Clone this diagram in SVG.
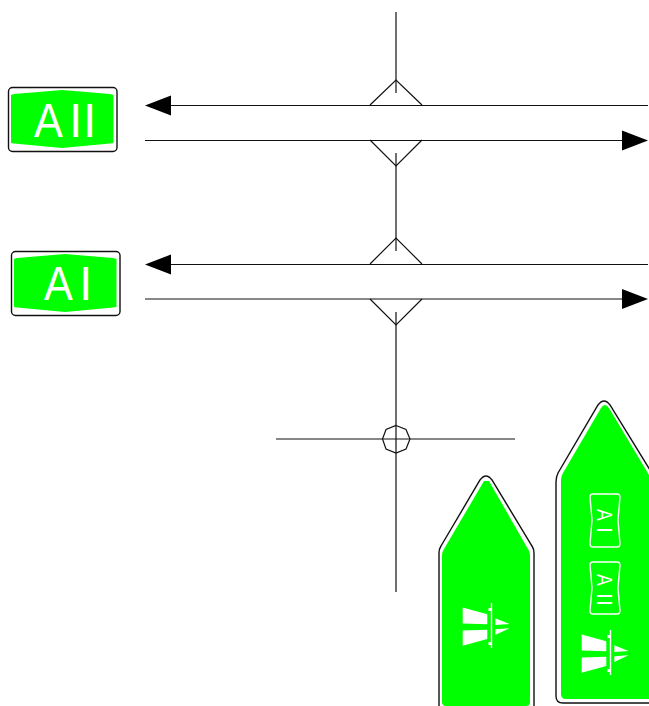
<svg xmlns="http://www.w3.org/2000/svg" width="649" height="706" viewBox="0 0 649 706">
<style>
.ln{fill:none;stroke:#111;stroke-width:1.2}
.out{fill:#fff;stroke:#111;stroke-width:1.4}
.gr{fill:#00ff00;stroke:none}
.big{font-family:"Liberation Sans",Arial,sans-serif;font-size:48px;fill:#fff}
.sm{font-family:"Liberation Sans",Arial,sans-serif;font-size:22px;fill:#fff}
.box{fill:none;stroke:#fff;stroke-width:1.4}
.ah{fill:#000;stroke:none}
</style>
<defs>
<g id="pict" fill="#fff">
<polygon points="462.7,607.5 487.3,614.3 487.3,624.3 462.7,623.5"/>
<polygon points="462.7,630.5 487.3,629.7 487.3,639 462.7,645.7"/>
<polygon points="495.3,618.3 509.5,624 495.3,625"/>
<polygon points="495.3,635 509.5,628.3 495.3,629.3"/>
<rect x="490.800" y="603" width="1.400" height="45"/>
<rect x="488.500" y="608" width="3" height="3"/>
<rect x="488.500" y="642" width="3" height="3"/>
</g>
</defs>
<g id="connectors">
<path class="ln" d="M396 12V93M396 153V251M396 312V592"/>
<path class="ln" d="M370 105L396 80L422 105M370 140L396 166L422 140"/>
<path class="ln" d="M370 264L396 238L422 264M370 299L396 325L422 299"/>
<path class="ln" d="M168 105.500H648M145 140.500H625M168 264.500H648M145 299H625"/>
<polygon class="ah" points="145,105.500 171,95.500 171,115.500"/>
<polygon class="ah" points="648,140.500 622,130.500 622,150.500"/>
<polygon class="ah" points="145,264.500 171,254.500 171,274.500"/>
<polygon class="ah" points="648,299 622,289 622,309"/>
<path class="ln" d="M276 439H515"/>
</g>
<g id="crossing">
<polygon class="ln" points="396,425.500 406,429.500 410,439 406,449 396,453 386,449 382.500,439 386,429.500"/>
</g>
<g id="sign-a2">
<rect class="out" x="8.500" y="87.500" width="108.500" height="64" rx="4"/>
<polygon class="gr" points="11,95 14,94 62,90 110,94 113.500,95 113.500,143 110,143.500 62,148 14,143.500 11,143"/>
<text class="big" transform="translate(34,137) scale(.9,1)">A</text>
<text class="big" x="69" y="137">I</text>
<text class="big" x="83" y="137">I</text>
</g>
<g id="sign-a1">
<rect class="out" x="11.500" y="251.500" width="108.500" height="64" rx="4"/>
<polygon class="gr" points="14,259 17,258 65,254 113,258 116.500,259 116.500,307 113,307.500 65,312 17,307.500 14,307"/>
<text class="big" transform="translate(44,300) scale(.9,1)">A</text>
<text class="big" x="79" y="300">I</text>
</g>
<g id="sign-route">
<path class="out" d="M439 707V553Q439 549 441 546L480 480Q486 472 492 480L532 546Q534 549 534 553V707"/>
<path class="gr" d="M442 702V555Q442 552 444 549L484 481H489L528 549Q530 552 530 555V702Q530 706 526 706H446Q442 706 442 702Z"/>
<use href="#pict"/>
</g>
<g id="sign-route-a1-a2">
<path class="out" d="M650 470L610 405Q604 397 598 405L558 473Q556 477 556 482V696Q556 703 563 703H650"/>
<path class="gr" d="M649 475L609 408Q605 402 601 408L563 473Q561 476 561 480V694Q561 699 566 699H649Z"/>
<path class="box" d="M593 494H617Q620 494 620 497L618 520L620 544Q620 547 617 547H593Q590 547 590 544L592 520L590 497Q590 494 593 494Z"/>
<text class="sm" transform="translate(597,509) rotate(90) scale(.8,1)">A</text>
<text class="sm" transform="translate(597,527) rotate(90)">I</text>
<path class="box" d="M593 562H617Q620 562 620 565L618 588L620 611Q620 614 617 614H593Q590 614 590 611L592 588L590 565Q590 562 593 562Z"/>
<text class="sm" transform="translate(597,574) rotate(90) scale(.8,1)">A</text>
<text class="sm" transform="translate(597,593) rotate(90)">I</text>
<text class="sm" transform="translate(597,600) rotate(90)">I</text>
<use href="#pict" transform="translate(119,27)"/>
</g>
</svg>
